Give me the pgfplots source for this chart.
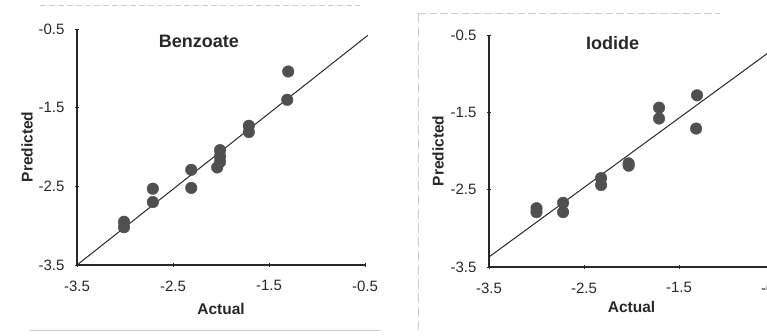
\documentclass[border=0pt]{standalone}
\usepackage{pgfplots}
\pgfplotsset{compat=1.18}
\usepackage{fontspec}
\setmainfont{Liberation Sans}
\definecolor{ink}{RGB}{40,40,40}
\definecolor{dot}{RGB}{80,80,80}
\definecolor{scan}{RGB}{205,205,205}
\pgfplotsset{
  myax/.style={
    scale only axis,
    xmin=-3.5, xmax=-0.5, ymin=-3.5, ymax=-0.5,
    axis x line*=bottom, axis y line*=left,
    axis line style={ink, line width=1.6pt, -},
    xtick={-3.5,-2.5,-1.5,-0.5}, ytick={-3.5,-2.5,-1.5,-0.5},
    xticklabels={-3.5,-2.5,-1.5,-0.5}, yticklabels={-3.5,-2.5,-1.5,-0.5},
    tick style={ink, line width=0.8pt},
    major tick length=4pt, tick align=center,
    ticklabel style={font=\fontsize{15}{16}\selectfont, text=ink},
    xticklabel style={yshift=-10pt},
    yticklabel style={xshift=-7pt},
    xlabel={\textbf{Actual}}, ylabel={\textbf{Predicted}},
    label style={font=\fontsize{15.5}{16}\selectfont, text=ink},
    clip=false,
  },
}
\begin{document}
\begin{tikzpicture}[x=1pt,y=1pt]
\path[use as bounding box] (0,0) rectangle (767,336);
% faint scan frame lines
\draw[scan, line width=0.6pt, dash pattern=on 6pt off 3pt] (40,331) -- (360,331);
\draw[scan, line width=0.6pt] (30,6) -- (380,6);
\draw[scan, line width=0.6pt, dash pattern=on 8pt off 3pt] (418,323) -- (720,323);
\draw[scan, line width=0.6pt, dash pattern=on 10pt off 4pt] (418,323) -- (418,6);

% ---------- Benzoate ----------
\begin{axis}[myax, at={(77pt,71pt)}, anchor=south west, width=288pt, height=236pt,
  xlabel style={yshift=-5pt}, ylabel style={yshift=-1pt}]
\addplot[ink, line width=1pt] coordinates {(-3.5,-3.5) (-0.47,-0.58)};
\addplot[only marks, mark=*, mark size=5.8pt, mark options={fill=dot, draw=dot}] coordinates {
(-1.30,-1.04) (-1.31,-1.40) (-1.71,-1.73) (-1.71,-1.81)
(-2.01,-2.04) (-2.01,-2.12) (-2.01,-2.19) (-2.04,-2.26)
(-2.31,-2.29) (-2.31,-2.52) (-2.71,-2.53) (-2.71,-2.70)
(-3.01,-2.95) (-3.01,-3.02)};
\node[font=\bfseries\fontsize{18}{18}\selectfont, text=ink] at (axis cs:-2.23,-0.66) {Benzoate};
\end{axis}

% ---------- Iodide ----------
\begin{axis}[myax, at={(489pt,69pt)}, anchor=south west, width=285pt, height=232pt,
  xlabel style={yshift=-1pt}, ylabel style={yshift=0pt}]
\addplot[ink, line width=1pt] coordinates {(-3.5,-3.37) (-0.5,-0.676)};
\addplot[only marks, mark=*, mark size=5.8pt, mark options={fill=dot, draw=dot}] coordinates {
(-1.31,-1.28) (-1.32,-1.71) (-1.71,-1.44) (-1.71,-1.58)
(-2.03,-2.16) (-2.03,-2.19)
(-2.32,-2.35) (-2.32,-2.44)
(-2.72,-2.67) (-2.72,-2.79)
(-3.00,-2.74) (-3.00,-2.79)};
\node[font=\bfseries\fontsize{18}{18}\selectfont, text=ink] at (axis cs:-2.2,-0.6) {Iodide};
\end{axis}
\end{tikzpicture}
\end{document}
